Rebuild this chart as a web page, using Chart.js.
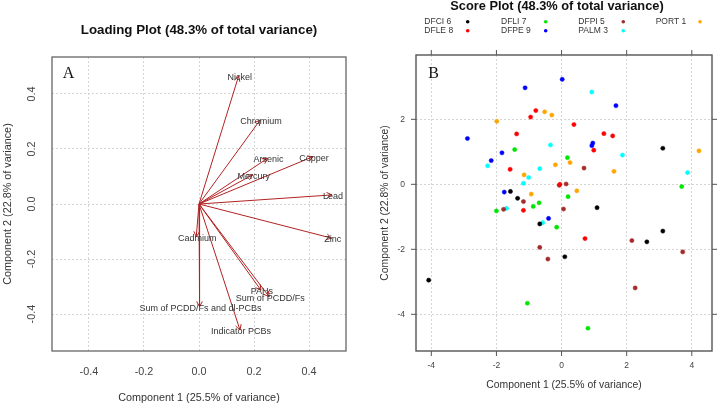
<!DOCTYPE html>
<html>
<head>
<meta charset="utf-8">
<script src="https://cdn.jsdelivr.net/npm/chart.js@4.4.0/dist/chart.umd.min.js"></script>
<style>
html, body { margin: 0; padding: 0; background: #fff; }
#wrap { position: relative; width: 719px; height: 406px; }
.panel { position: absolute; top: 0; height: 406px; }
</style>
</head>
<body>
<div id="wrap">
  <div class="panel" style="left:0;width:360px"><canvas id="loadingChart" width="360" height="406"></canvas></div>
  <div class="panel" style="left:360px;width:359px"><canvas id="scoreChart" width="359" height="406"></canvas></div>
</div>
<script>
// loading plot
const variables = ["Nickel", "Chromium", "Arsenic", "Copper", "Mercury", "Lead", "Zinc", "Cadmium",
    "PAHs", "Sum of PCDD/Fs", "Sum of PCDD/Fs and dl-PCBs", "Indicator PCBs"];
const pc1Loadings = [0.144, 0.222, 0.249, 0.414, 0.195, 0.483, 0.482, -0.010, 0.225, 0.255, 0.002, 0.149];
const pc2Loadings = [0.465, 0.305, 0.166, 0.172, 0.106, 0.033, -0.124, -0.119, -0.313, -0.337, -0.373, -0.458];
const loadingTicks = [-0.4, -0.2, 0.0, 0.2, 0.4];

// score plot
const groups = ["DFCI 6", "DFLE 8", "DFLI 7", "DFPE 9", "DFPI 5", "PALM 3", "PORT 1"];
const dfciPc1 = [-1.57, -1.35, -0.67, 0.10, -4.08, 1.09, 2.62, 3.11, 3.11];
const dfciPc2 = [-0.22, -0.43, -1.22, -2.23, -2.95, -0.72, -1.77, -1.44, 1.11];
const dflePc1 = [-0.79, -0.95, -1.38, -1.58, -1.17, 0.72, 0.38, 1.30, 1.57, 0.99, -0.05];
const dflePc2 = [2.27, 2.07, 1.55, 0.46, -0.80, -1.67, 1.84, 1.56, 1.49, 1.05, 0.00];
const dfliPc1 = [-1.44, 0.18, -0.69, -0.87, -2.00, 0.20, -0.15, -1.05, 3.69, 0.81];
const dfliPc2 = [1.07, 0.82, -0.57, -0.68, -0.82, -0.38, -1.32, -3.66, -0.07, -4.43];
const dfpePc1 = [0.02, -1.12, -2.89, -1.83, -2.16, -1.76, -0.40, 1.67, 0.96, 0.93];
const dfpePc2 = [3.23, 2.97, 1.41, 0.97, 0.73, -0.24, -1.05, 2.42, 1.27, 1.19];
const dfpiPc1 = [-0.07, 0.14, -1.17, -1.78, 0.06, -0.67, -0.42, 2.16, 3.72, 2.26, 0.69];
const dfpiPc2 = [-0.03, 0.01, -0.53, -0.77, -0.76, -1.94, -2.30, -1.73, -2.08, -3.19, 0.50];
const palmPc1 = [0.93, -0.34, -2.27, -0.67, -1.01, -1.17, -1.69, -0.58, 1.87, 3.87];
const palmPc2 = [2.84, 1.21, 0.57, 0.48, 0.21, 0.03, -0.74, -1.18, 0.90, 0.36];
const portPc1 = [-0.52, -0.30, -1.99, -0.19, -1.15, -0.93, 0.26, 1.61, 0.47, 4.22];
const portPc2 = [2.23, 2.13, 1.94, 0.60, 0.29, -0.30, 0.67, 0.40, -0.20, 1.03];
const scoreXTicks = [-4, -2, 0, 2, 4];
const scoreYTicks = [-4, -2, 0, 2];

const groupPc1 = [dfciPc1, dflePc1, dfliPc1, dfpePc1, dfpiPc1, palmPc1, portPc1];
const groupPc2 = [dfciPc2, dflePc2, dfliPc2, dfpePc2, dfpiPc2, palmPc2, portPc2];
const groupColors = ["#000000", "#ff0000", "#00e600", "#0000ff", "#a52a2a", "#00ffff", "#ffa500"];

const arrowColor = "#b22222";
const textColor = "#333";
const gridColor = "#d4d4d4";

function setTicks(values) {
    return function (scale) {
        scale.ticks = values.map(v => ({ value: v }));
    };
}

function fmt1(v) {
    return v.toFixed(1);
}

// ---------- loading plot ----------
const loadingSets = variables.map((name, i) => ({
    label: name,
    data: [{ x: 0, y: 0 }, { x: pc1Loadings[i], y: pc2Loadings[i] }],
    showLine: true,
    borderColor: arrowColor,
    borderWidth: 1,
    pointRadius: 0
}));

const loadingDecor = {
    id: "loadingDecor",
    afterDraw(chart) {
        const ctx = chart.ctx;
        const a = chart.chartArea;
        const xs = chart.scales.x;
        const ys = chart.scales.y;
        ctx.save();

        // arrow heads
        const ox = xs.getPixelForValue(0);
        const oy = ys.getPixelForValue(0);
        ctx.strokeStyle = arrowColor;
        ctx.lineWidth = 1;
        for (let i = 0; i < variables.length; i++) {
            const tx = xs.getPixelForValue(pc1Loadings[i]);
            const ty = ys.getPixelForValue(pc2Loadings[i]);
            const ang = Math.atan2(ty - oy, tx - ox);
            ctx.beginPath();
            ctx.moveTo(tx - 6 * Math.cos(ang - 0.5), ty - 6 * Math.sin(ang - 0.5));
            ctx.lineTo(tx, ty);
            ctx.lineTo(tx - 6 * Math.cos(ang + 0.5), ty - 6 * Math.sin(ang + 0.5));
            ctx.stroke();
        }

        // variable labels
        ctx.fillStyle = textColor;
        ctx.font = "9px 'Liberation Sans', Arial, sans-serif";
        ctx.textAlign = "center";
        ctx.textBaseline = "middle";
        for (let i = 0; i < variables.length; i++) {
            const tx = xs.getPixelForValue(pc1Loadings[i]);
            const ty = ys.getPixelForValue(pc2Loadings[i]);
            ctx.fillText(variables[i], tx + 1, ty + 1.5);
        }

        // box
        ctx.strokeStyle = "#666";
        ctx.lineWidth = 1.3;
        ctx.strokeRect(a.left, a.top, a.right - a.left, a.bottom - a.top);

        // tick labels
        ctx.font = "10.8px 'Liberation Sans', Arial, sans-serif";
        ctx.fillStyle = "#444";
        loadingTicks.forEach(v => {
            ctx.fillText(fmt1(v), xs.getPixelForValue(v), 372);
        });
        loadingTicks.forEach(v => {
            ctx.save();
            ctx.translate(32, ys.getPixelForValue(v));
            ctx.rotate(-Math.PI / 2);
            ctx.fillText(fmt1(v), 0, 0);
            ctx.restore();
        });

        // axis titles
        ctx.fillStyle = textColor;
        ctx.font = "10.8px 'Liberation Sans', Arial, sans-serif";
        ctx.fillText("Component 1 (25.5% of variance)", (a.left + a.right) / 2, 398);
        ctx.save();
        ctx.translate(8, (a.top + a.bottom) / 2);
        ctx.rotate(-Math.PI / 2);
        ctx.fillText("Component 2 (22.8% of variance)", 0, 0);
        ctx.restore();

        // title and panel letter
        ctx.fillStyle = "#111";
        ctx.font = "bold 13.3px 'Liberation Sans', Arial, sans-serif";
        ctx.fillText("Loading Plot (48.3% of total variance)", 199, 30);
        ctx.font = "16px 'Liberation Serif', 'Times New Roman', serif";
        ctx.fillText("A", 68.5, 74);
        ctx.restore();
    }
};

new Chart(document.getElementById("loadingChart").getContext("2d"), {
    type: "scatter",
    data: { datasets: loadingSets },
    options: {
        responsive: false,
        animation: false,
        layout: { padding: { top: 57, right: 14, left: 0, bottom: 0 } },
        plugins: { legend: { display: false }, tooltip: { enabled: false } },
        scales: {
            x: {
                type: "linear", min: -0.534, max: 0.534,
                afterBuildTicks: setTicks(loadingTicks),
                afterFit(scale) { scale.height = 55; },
                ticks: { display: false },
                grid: { color: gridColor, drawTicks: false },
                border: { display: false, dash: [2, 2] }
            },
            y: {
                type: "linear", min: -0.534, max: 0.534,
                afterBuildTicks: setTicks(loadingTicks),
                afterFit(scale) { scale.width = 52; },
                ticks: { display: false },
                grid: { color: gridColor, drawTicks: false },
                border: { display: false, dash: [2, 2] }
            }
        }
    },
    plugins: [loadingDecor]
});

// ---------- score plot ----------
const scoreSets = groups.map((name, g) => ({
    label: name,
    data: groupPc1[g].map((v, i) => ({ x: v, y: groupPc2[g][i] })),
    backgroundColor: groupColors[g],
    borderColor: groupColors[g],
    borderWidth: 0.5,
    pointRadius: 2.1
}));

const scoreDecor = {
    id: "scoreDecor",
    afterDraw(chart) {
        const ctx = chart.ctx;
        const a = chart.chartArea;
        const xs = chart.scales.x;
        const ys = chart.scales.y;
        ctx.save();

        // box and outside ticks
        ctx.strokeStyle = "#555";
        ctx.lineWidth = 1.4;
        ctx.strokeRect(a.left, a.top, a.right - a.left, a.bottom - a.top);
        ctx.lineWidth = 1;
        ctx.beginPath();
        scoreXTicks.forEach(v => {
            const px = xs.getPixelForValue(v);
            ctx.moveTo(px, a.top); ctx.lineTo(px, a.top - 5);
            ctx.moveTo(px, a.bottom); ctx.lineTo(px, a.bottom + 5);
        });
        scoreYTicks.forEach(v => {
            const py = ys.getPixelForValue(v);
            ctx.moveTo(a.left, py); ctx.lineTo(a.left - 5, py);
            ctx.moveTo(a.right, py); ctx.lineTo(a.right + 5, py);
        });
        ctx.stroke();

        // tick labels
        ctx.fillStyle = "#444";
        ctx.font = "8.5px 'Liberation Sans', Arial, sans-serif";
        ctx.textAlign = "center";
        ctx.textBaseline = "middle";
        scoreXTicks.forEach(v => ctx.fillText(String(v), xs.getPixelForValue(v), 366));
        ctx.textAlign = "right";
        scoreYTicks.forEach(v => ctx.fillText(String(v), 45, ys.getPixelForValue(v)));

        // axis titles
        ctx.fillStyle = textColor;
        ctx.textAlign = "center";
        ctx.font = "10.4px 'Liberation Sans', Arial, sans-serif";
        ctx.fillText("Component 1 (25.5% of variance)", (a.left + a.right) / 2, 385);
        ctx.save();
        ctx.translate(25.5, (a.top + a.bottom) / 2);
        ctx.rotate(-Math.PI / 2);
        ctx.fillText("Component 2 (22.8% of variance)", 0, 0);
        ctx.restore();

        // title
        ctx.fillStyle = "#111";
        ctx.font = "bold 12.8px 'Liberation Sans', Arial, sans-serif";
        ctx.fillText("Score Plot (48.3% of total variance)", 197, 6.5);

        // legend, two rows per column
        const colText = [64.3, 141, 218.3, 295.7];
        const colDot = [107.7, 185.7, 263.3, 340];
        const rowY = [21.7, 30.7];
        ctx.font = "8.5px 'Liberation Sans', Arial, sans-serif";
        ctx.textAlign = "left";
        groups.forEach((name, g) => {
            const c = Math.floor(g / 2);
            const r = g % 2;
            ctx.fillStyle = textColor;
            ctx.fillText(name, colText[c], rowY[r]);
            ctx.fillStyle = groupColors[g];
            ctx.beginPath();
            ctx.arc(colDot[c], rowY[r], 1.8, 0, Math.PI * 2);
            ctx.fill();
        });

        // panel letter
        ctx.fillStyle = "#111";
        ctx.textAlign = "center";
        ctx.font = "16px 'Liberation Serif', 'Times New Roman', serif";
        ctx.fillText("B", 73.7, 74);
        ctx.restore();
    }
};

new Chart(document.getElementById("scoreChart").getContext("2d"), {
    type: "scatter",
    data: { datasets: scoreSets },
    options: {
        responsive: false,
        animation: false,
        layout: { padding: { top: 55, right: 7, left: 0, bottom: 0 } },
        plugins: { legend: { display: false }, tooltip: { enabled: false } },
        scales: {
            x: {
                type: "linear", min: -4.47, max: 4.62,
                afterBuildTicks: setTicks(scoreXTicks),
                afterFit(scale) { scale.height = 55; },
                ticks: { display: false },
                grid: { color: gridColor, drawTicks: false },
                border: { display: false, dash: [2, 2] }
            },
            y: {
                type: "linear", min: -5.13, max: 3.98,
                afterBuildTicks: setTicks(scoreYTicks),
                afterFit(scale) { scale.width = 56; },
                ticks: { display: false },
                grid: { color: gridColor, drawTicks: false },
                border: { display: false, dash: [2, 2] }
            }
        }
    },
    plugins: [scoreDecor]
});
</script>
</body>
</html>
